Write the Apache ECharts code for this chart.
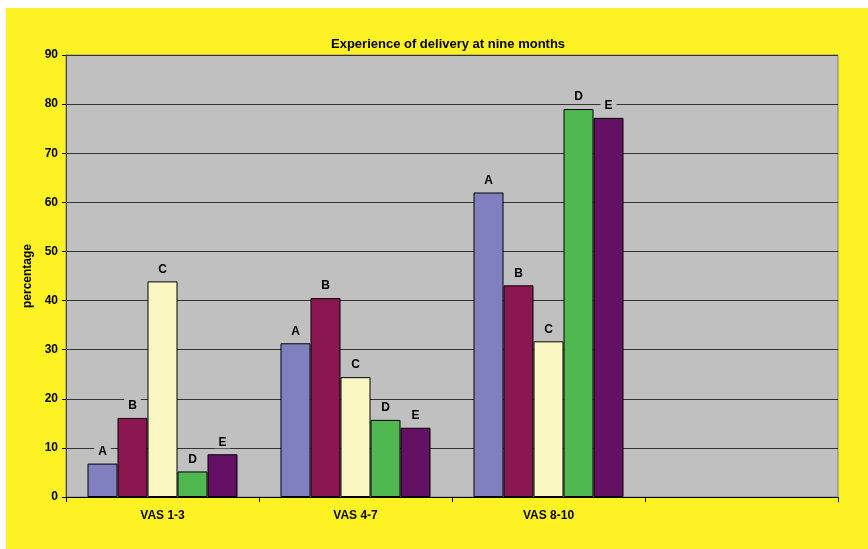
<!DOCTYPE html>
<html>
<head>
<meta charset="utf-8">
<script src="https://cdn.jsdelivr.net/npm/echarts@6/dist/echarts.min.js"></script>
<style>
html,body{margin:0;padding:0;background:#ffffff;}
#chart{width:868px;height:549px;}
</style>
</head>
<body>
<div id="chart"></div>
<script>
var categories = ['VAS 1-3', 'VAS 4-7', 'VAS 8-10', ''];
var seriesNames = ['A', 'B', 'C', 'D', 'E'];
var valuesA = [6.8, 31.3, 62.0, null];
var valuesB = [16.1, 40.5, 43.1, null];
var valuesC = [43.9, 24.4, 31.7, null];
var valuesD = [5.2, 15.7, 79.0, null];
var valuesE = [8.7, 14.1, 77.2, null];
var yTicks = [0, 10, 20, 30, 40, 50, 60, 70, 80, 90];

var colors = ['#8080C0', '#8A1750', '#FAF7C2', '#50B850', '#641064'];
var allValues = [valuesA, valuesB, valuesC, valuesD, valuesE];
var font = 'Liberation Sans, Arial, sans-serif';

var chart = echarts.init(document.getElementById('chart'), null, {renderer: 'canvas'});
var series = seriesNames.map(function (name, i) {
  return {
    name: name,
    type: 'bar',
    data: allValues[i],
    barWidth: 30,
    barGap: '0%',
    itemStyle: {color: colors[i], borderColor: '#000', borderWidth: 1},
    label: {
      show: true,
      position: 'top',
      distance: 6,
      formatter: name,
      color: '#000',
      fontWeight: 'bold',
      fontSize: 12,
      fontFamily: font,
      backgroundColor: '#C0C0C0',
      padding: [1, 4, 0, 4]
    },
    animation: false
  };
});

chart.setOption({
  animation: false,
  graphic: [{
    type: 'rect', z: -10, silent: true,
    shape: {x: 6, y: 8, width: 862, height: 541},
    style: {fill: '#FFF224'}
  }],
  title: {
    text: 'Experience of delivery at nine months',
    left: 326, top: 33,
    textStyle: {fontSize: 13, fontWeight: 'bold', color: '#000', fontFamily: font}
  },
  grid: {
    left: 66, right: 30, top: 55, bottom: 52,
    show: true, backgroundColor: '#C0C0C0', borderColor: '#808080', borderWidth: 1,
    containLabel: false
  },
  xAxis: {
    type: 'category',
    data: categories,
    boundaryGap: true,
    axisLine: {lineStyle: {color: '#000', width: 1}},
    axisTick: {show: true, alignWithLabel: false, length: 5, lineStyle: {color: '#000'}},
    axisLabel: {color: '#000', fontWeight: 'bold', fontSize: 12, fontFamily: font, margin: 13}
  },
  yAxis: {
    type: 'value',
    min: yTicks[0], max: yTicks[yTicks.length - 1], interval: 10,
    name: 'percentage',
    nameLocation: 'middle',
    nameGap: 32,
    nameTextStyle: {color: '#000', fontWeight: 'bold', fontSize: 12, fontFamily: font},
    axisLine: {show: true, lineStyle: {color: '#444', width: 1}},
    axisTick: {show: true, length: 4, lineStyle: {color: '#000'}},
    axisLabel: {color: '#000', fontWeight: 'bold', fontSize: 12, fontFamily: font, margin: 8},
    splitLine: {show: true, lineStyle: {color: '#333', width: 1}}
  },
  series: series
});
</script>
</body>
</html>
